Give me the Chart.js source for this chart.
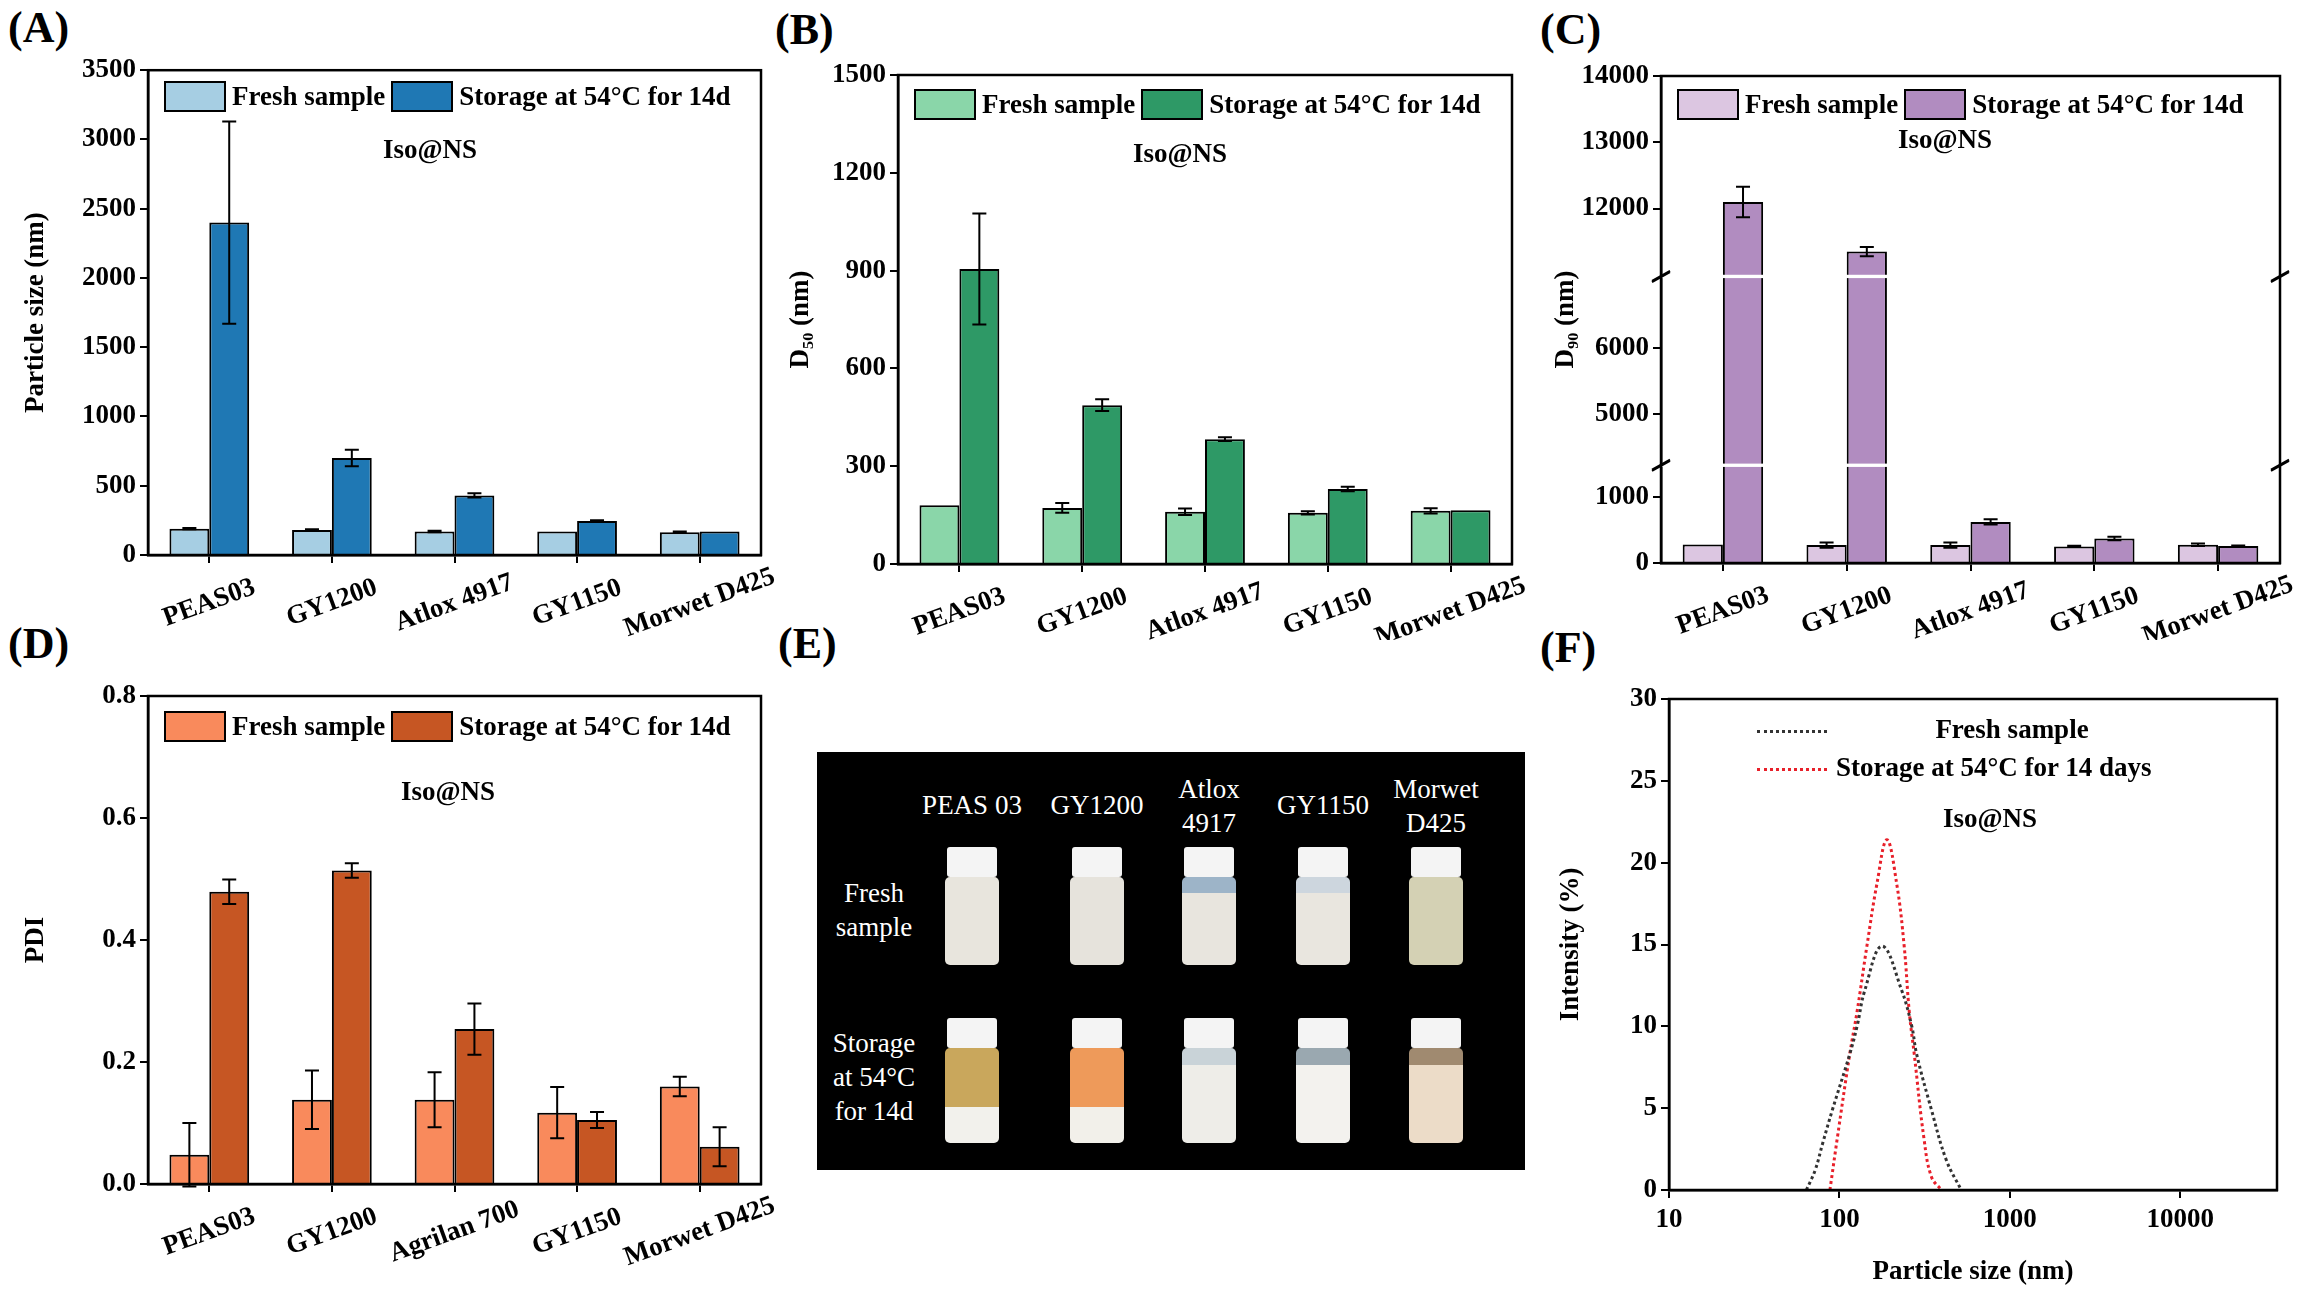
<!DOCTYPE html>
<html>
<head>
<meta charset="utf-8">
<script src="https://cdn.jsdelivr.net/npm/chart.js@4.4.1/dist/chart.umd.min.js"></script>
<style>
  body { margin: 0; background: #fff; width: 2315px; height: 1295px; position: relative; overflow: hidden;
         font-family: "Liberation Serif", "Times New Roman", serif; }
  canvas { position: absolute; }
  .lbl { position: absolute; font-weight: bold; font-size: 44px; line-height: 1; }
  .txt { position: absolute; font-weight: bold; font-size: 27px; line-height: 1; white-space: nowrap; }
  .leg { position: absolute; display: flex; align-items: center; font-weight: bold; font-size: 27px; white-space: nowrap; }
  .leg .box { width: 58px; height: 27px; border: 2px solid #000; margin-right: 6px; }
  .leg span { margin-right: 6px; }
  #photo { position: absolute; left: 817px; top: 752px; width: 708px; height: 418px; background: #000; }
  .ph { position: absolute; color: #fff; font-size: 27px; text-align: center; line-height: 34px; white-space: nowrap; transform: translateX(-50%); }
  .vial { position: absolute; width: 54px; transform: translateX(-50%); }
  .cap { height: 30px; background: #f4f4f4; border-radius: 3px; width: 50px; margin: 0 auto; }
  .body { border-radius: 5px; }
</style>
</head>
<body>
<div class="lbl" style="left:8px;top:6px">(A)</div>
<div class="lbl" style="left:775px;top:8px">(B)</div>
<div class="lbl" style="left:1540px;top:8px">(C)</div>
<div class="lbl" style="left:8px;top:622px">(D)</div>
<div class="lbl" style="left:778px;top:622px">(E)</div>
<div class="lbl" style="left:1540px;top:626px">(F)</div>

<canvas id="chartA"></canvas>
<canvas id="chartB"></canvas>
<canvas id="chartC"></canvas>
<canvas id="chartD"></canvas>
<canvas id="chartF"></canvas>
<div id="photo"></div>

<script>
// ========== DATA ==========
const productsA = ['PEAS03', 'GY1200', 'Atlox 4917', 'GY1150', 'Morwet D425'];
const productsD = ['PEAS03', 'GY1200', 'Agrilan 700', 'GY1150', 'Morwet D425'];
const seriesNames = ['Fresh sample', 'Storage at 54°C for 14d'];

const sizeFresh = [190, 180, 170, 170, 165];
const sizeFreshErr = [5, 5, 5, 0, 5];
const sizeStored = [2400, 700, 430, 245, 170];
const sizeStoredErr = [730, 60, 15, 5, 0];

const d50Fresh = [180, 172, 160, 157, 163];
const d50FreshErr = [0, 15, 10, 5, 8];
const d50Stored = [905, 487, 383, 230, 165];
const d50StoredErr = [170, 18, 6, 7, 0];

const d90Fresh = [280, 270, 270, 250, 275];
const d90FreshErr = [0, 40, 40, 10, 20];
const d90Stored = [12100, 11350, 620, 370, 255];
const d90StoredErr = [230, 70, 40, 25, 10];
const d90Ticks = [0, 1000, 5000, 6000, 12000, 13000, 14000];

const pdiFresh = [0.048, 0.138, 0.138, 0.117, 0.160];
const pdiFreshErr = [0.052, 0.048, 0.045, 0.042, 0.016];
const pdiStored = [0.479, 0.514, 0.254, 0.105, 0.061];
const pdiStoredErr = [0.020, 0.012, 0.042, 0.013, 0.032];

const dlsFreshSize = [64, 72, 80, 91, 115, 127, 141, 178, 232, 266, 284, 347, 425, 519];
const dlsFreshInt = [0, 1.2, 2.9, 4.9, 8.3, 10, 12.2, 14.9, 12.2, 10, 8.3, 4.9, 1.8, 0];
const dlsStoredSize = [88, 97, 115, 127, 145, 166, 190, 217, 240, 257, 275, 314, 347, 397];
const dlsStoredInt = [0, 3.1, 8.3, 10.9, 14.9, 18.7, 21.4, 18.7, 14.9, 10.9, 8.3, 3.1, 0.8, 0];

// ========== BROKEN AXIS FOR (C) ==========
function toC(v) {
    if (v <= 1450) return v;
    if (v <= 7050) return v - 2750;
    return v - 11000 + 4350;
}
function fromC(c) {
    if (c <= 1450) return c;
    if (c <= 4300) return c + 2750;
    return c + 11000 - 4350;
}
const identity = v => v;

const FONT = { family: '"Liberation Serif", "Times New Roman", serif', weight: 'bold', size: 27 };

// ========== PLUGINS ==========
const framePlugin = {
    id: 'frame',
    afterDraw(chart) {
        const a = chart.chartArea, ctx = chart.ctx;
        ctx.save();
        ctx.strokeStyle = '#000';
        ctx.lineWidth = 2.5;
        ctx.strokeRect(a.left, a.top, a.right - a.left, a.bottom - a.top);
        ctx.restore();
    }
};

// rotated category labels, centred under each tick
const slantLabelPlugin = {
    id: 'slantLabels',
    afterDraw(chart) {
        const ctx = chart.ctx, x = chart.scales.x, a = chart.chartArea;
        ctx.save();
        ctx.fillStyle = '#000';
        ctx.font = 'bold 27px "Liberation Serif", "Times New Roman", serif';
        ctx.textAlign = 'center';
        ctx.textBaseline = 'middle';
        chart.data.labels.forEach((lab, i) => {
            ctx.save();
            ctx.translate(x.getPixelForTick(i), a.bottom + 48);
            ctx.rotate(-20 * Math.PI / 180);
            ctx.fillText(lab, 0, 0);
            ctx.restore();
        });
        ctx.restore();
    }
};

const errorBarPlugin = {
    id: 'errorBars',
    afterDatasetsDraw(chart) {
        const ctx = chart.ctx, y = chart.scales.y;
        ctx.save();
        ctx.strokeStyle = '#000';
        ctx.lineWidth = 2;
        chart.data.datasets.forEach((ds, di) => {
            const map = ds.mapFn || identity;
            chart.getDatasetMeta(di).data.forEach((bar, i) => {
                const err = ds.errs[i];
                if (!err) return;
                const top = y.getPixelForValue(map(ds.raw[i] + err));
                const bot = y.getPixelForValue(map(ds.raw[i] - err));
                ctx.beginPath();
                ctx.moveTo(bar.x, top); ctx.lineTo(bar.x, bot);
                ctx.moveTo(bar.x - 7, top); ctx.lineTo(bar.x + 7, top);
                ctx.moveTo(bar.x - 7, bot); ctx.lineTo(bar.x + 7, bot);
                ctx.stroke();
            });
        });
        ctx.restore();
    }
};

const breakPlugin = {
    id: 'axisBreak',
    afterDraw(chart) {
        const gaps = chart.config.data.gaps;
        if (!gaps) return;
        const ctx = chart.ctx, a = chart.chartArea, y = chart.scales.y;
        ctx.save();
        gaps.forEach(g => {
            const p1 = y.getPixelForValue(g[1]), p0 = y.getPixelForValue(g[0]);
            ctx.fillStyle = '#fff';
            ctx.fillRect(a.left - 3, p1, a.right - a.left + 6, p0 - p1);
            ctx.strokeStyle = '#000';
            ctx.lineWidth = 2;
            [a.left, a.right].forEach(x => {
                ctx.beginPath();
                ctx.moveTo(x - 9, p0 + 4); ctx.lineTo(x + 9, p0 - 6);
                ctx.moveTo(x - 9, p1 + 6); ctx.lineTo(x + 9, p1 - 4);
                ctx.stroke();
            });
        });
        ctx.restore();
    }
};

// ========== LAYOUT HELPER ==========
function placeCanvas(id, box) {
    const c = document.getElementById(id);
    c.style.left = box.x + 'px';
    c.style.top = box.y + 'px';
    c.style.width = box.w + 'px';
    c.style.height = box.h + 'px';
    c.width = box.w;
    c.height = box.h;
    return c;
}

function axisFit(box, area) {
    return {
        yWidth: area.l - box.x,
        xHeight: box.y + box.h - area.b,
        padTop: area.t - box.y,
        padRight: box.x + box.w - area.r
    };
}

function addText(text, x, y, cls, extra) {
    const d = document.createElement('div');
    d.className = cls || 'txt';
    d.textContent = text;
    d.style.left = x + 'px';
    d.style.top = y + 'px';
    if (extra) Object.assign(d.style, extra);
    document.body.appendChild(d);
    return d;
}

function addLegend(x, y, colors) {
    const d = document.createElement('div');
    d.className = 'leg';
    d.style.left = x + 'px';
    d.style.top = y + 'px';
    seriesNames.forEach((n, i) => {
        const b = document.createElement('div');
        b.className = 'box';
        b.style.background = colors[i];
        const s = document.createElement('span');
        s.textContent = n;
        d.appendChild(b);
        d.appendChild(s);
    });
    document.body.appendChild(d);
}

// ========== BAR PANEL ==========
function barPanel(cfg) {
    const canvas = placeCanvas(cfg.id, cfg.box);
    const fit = axisFit(cfg.box, cfg.area);
    const map = cfg.map || identity;
    const yScale = {
        min: map(cfg.yMin), max: map(cfg.yMax),
        ticks: { color: '#000', font: FONT, padding: 4, stepSize: cfg.step,
                 callback: cfg.tickLabel || (v => v) },
        grid: { drawOnChartArea: false, color: '#000', tickLength: 8, lineWidth: 2 },
        border: { display: true, color: '#000', width: 2.5 },
        title: { display: true, text: cfg.yTitle, color: '#000', font: FONT, padding: 0 },
        afterFit(s) { s.width = fit.yWidth; }
    };
    if (cfg.tickValues) {
        yScale.afterBuildTicks = s => { s.ticks = cfg.tickValues.map(v => ({ value: map(v) })); };
        yScale.ticks.callback = v => Math.round(fromC(v));
    }
    new Chart(canvas, {
        type: 'bar',
        data: {
            labels: cfg.labels,
            gaps: cfg.gaps,
            datasets: [
                { label: seriesNames[0], data: cfg.fresh.map(map), raw: cfg.fresh, errs: cfg.freshErr, mapFn: map,
                  backgroundColor: cfg.colors[0], borderColor: '#000', borderWidth: 2 },
                { label: seriesNames[1], data: cfg.stored.map(map), raw: cfg.stored, errs: cfg.storedErr, mapFn: map,
                  backgroundColor: cfg.colors[1], borderColor: '#000', borderWidth: 2 }
            ]
        },
        options: {
            responsive: false,
            animation: false,
            layout: { padding: { top: fit.padTop, right: fit.padRight, left: 0, bottom: 0 } },
            datasets: { bar: { categoryPercentage: 0.65, barPercentage: 1 } },
            plugins: {
                legend: { display: false },
                tooltip: { enabled: false }
            },
            scales: {
                x: {
                    ticks: { display: false },
                    grid: { drawOnChartArea: false, color: '#000', tickLength: 8, lineWidth: 2, offset: false },
                    border: { display: true, color: '#000', width: 2.5 },
                    afterFit(s) { s.height = fit.xHeight; }
                },
                y: yScale
            }
        },
        plugins: [errorBarPlugin, breakPlugin, framePlugin, slantLabelPlugin]
    });
    addLegend(cfg.area.l + 16, cfg.legendY, cfg.colors);
    addText('Iso@NS', cfg.isoX, cfg.isoY, 'txt', { transform: 'translateX(-50%)' });
}

barPanel({
    id: 'chartA', box: { x: 20, y: 50, w: 780, h: 590 }, area: { l: 148, t: 65, r: 761, b: 555 },
    labels: productsA, fresh: sizeFresh, freshErr: sizeFreshErr, stored: sizeStored, storedErr: sizeStoredErr,
    yMin: 0, yMax: 3500, step: 500, yTitle: 'Particle size (nm)', colors: ['#a6cee3', '#1f78b4'],
    legendY: 81, isoX: 430, isoY: 136
});
barPanel({
    id: 'chartB', box: { x: 785, y: 50, w: 760, h: 590 }, area: { l: 898, t: 75, r: 1512, b: 564 },
    labels: productsA, fresh: d50Fresh, freshErr: d50FreshErr, stored: d50Stored, storedErr: d50StoredErr,
    yMin: 0, yMax: 1500, step: 300, yTitle: 'D₅₀ (nm)', colors: ['#8ad6a9', '#2e9966'],
    legendY: 89, isoX: 1180, isoY: 140
});
barPanel({
    id: 'chartC', box: { x: 1550, y: 50, w: 765, h: 590 }, area: { l: 1661, t: 76, r: 2280, b: 563 },
    labels: productsA, fresh: d90Fresh, freshErr: d90FreshErr, stored: d90Stored, storedErr: d90StoredErr,
    yMin: 0, yMax: 14000, yTitle: 'D₉₀ (nm)', colors: ['#dcc6e1', '#b18cc0'],
    map: toC, tickValues: d90Ticks, gaps: [[1450, 1500], [4300, 4350]],
    legendY: 89, isoX: 1945, isoY: 126
});
barPanel({
    id: 'chartD', box: { x: 20, y: 670, w: 780, h: 620 }, area: { l: 148, t: 696, r: 761, b: 1184 },
    labels: productsD, fresh: pdiFresh, freshErr: pdiFreshErr, stored: pdiStored, storedErr: pdiStoredErr,
    yMin: 0, yMax: 0.8, step: 0.2, yTitle: 'PDI', colors: ['#f98a5c', '#c65623'],
    tickLabel: v => v.toFixed(1),
    legendY: 711, isoX: 448, isoY: 778
});

// ========== DLS PANEL (F) ==========
(function () {
    const box = { x: 1555, y: 670, w: 752, h: 622 };
    const area = { l: 1669, t: 699, r: 2277, b: 1190 };
    const fit = axisFit(box, area);
    const canvas = placeCanvas('chartF', box);
    const pts = (xs, ys) => xs.map((x, i) => ({ x: x, y: ys[i] }));
    new Chart(canvas, {
        type: 'scatter',
        data: {
            datasets: [
                { label: 'Fresh sample', data: pts(dlsFreshSize, dlsFreshInt), showLine: true,
                  borderColor: '#333', borderDash: [3, 3], borderWidth: 3, pointRadius: 0, tension: 0.4 },
                { label: 'Storage at 54°C for 14 days', data: pts(dlsStoredSize, dlsStoredInt), showLine: true,
                  borderColor: '#e8202a', borderDash: [3, 3], borderWidth: 3, pointRadius: 0, tension: 0.4 }
            ]
        },
        options: {
            responsive: false,
            animation: false,
            layout: { padding: { top: fit.padTop, right: fit.padRight, left: 0, bottom: 0 } },
            plugins: { legend: { display: false }, tooltip: { enabled: false } },
            scales: {
                x: {
                    type: 'logarithmic', min: 10, max: 37000,
                    afterBuildTicks(s) { s.ticks = [10, 100, 1000, 10000].map(v => ({ value: v })); },
                    ticks: { color: '#000', font: FONT, maxRotation: 0, padding: 6, callback: v => v },
                    grid: { drawOnChartArea: false, color: '#000', tickLength: 8, lineWidth: 2 },
                    border: { display: true, color: '#000', width: 2.5 },
                    title: { display: true, text: 'Particle size (nm)', color: '#000', font: FONT, padding: { top: 14 } },
                    afterFit(s) { s.height = fit.xHeight; }
                },
                y: {
                    min: 0, max: 30,
                    ticks: { color: '#000', font: FONT, stepSize: 5, padding: 4 },
                    grid: { drawOnChartArea: false, color: '#000', tickLength: 8, lineWidth: 2 },
                    border: { display: true, color: '#000', width: 2.5 },
                    title: { display: true, text: 'Intensity (%)', color: '#000', font: FONT, padding: 0 },
                    afterFit(s) { s.width = fit.yWidth; }
                }
            }
        },
        plugins: [framePlugin]
    });
    const line = (x, y, color) => {
        const d = document.createElement('div');
        Object.assign(d.style, { position: 'absolute', left: x + 'px', top: y + 'px', width: '70px',
                                 borderTop: '3px dotted ' + color });
        document.body.appendChild(d);
    };
    line(1757, 730, '#333');
    line(1757, 768, '#e8202a');
    addText('Fresh sample', 2012, 716, 'txt', { transform: 'translateX(-50%)' });
    addText('Storage at 54°C for 14 days', 1836, 754, 'txt');
    addText('Iso@NS', 1990, 805, 'txt', { transform: 'translateX(-50%)' });
})();

// ========== PHOTO PANEL (E) ==========
const photoCols = ['PEAS 03', 'GY1200', 'Atlox\n4917', 'GY1150', 'Morwet\nD425'];
const photoX = [155, 280, 392, 506, 619];
const freshVial = [['#e8e5dd'], ['#e6e3dc'], ['#9db4c8', '#e8e5de'], ['#cdd6de', '#e9e6df'], ['#d4d1b4']];
const storedVial = [['#c9a75c', '#f2f1ec'], ['#ee9a5a', '#f2f0ea'], ['#c9d3d8', '#eeede8'], ['#9aa8b0', '#f3f2ee'], ['#a08a70', '#ecdcc8']];
(function () {
    const ph = document.getElementById('photo');
    const add = (html, x, y, cls) => {
        const d = document.createElement('div');
        d.className = cls;
        d.innerHTML = html;
        d.style.left = x + 'px';
        d.style.top = y + 'px';
        ph.appendChild(d);
        return d;
    };
    photoCols.forEach((t, i) => {
        const two = t.includes('\n');
        add(t.replace('\n', '<br>'), photoX[i], two ? 20 : 36, 'ph');
        const mk = (top, colors, h, split) => {
            const grad = colors.length > 1
                ? 'linear-gradient(' + colors[0] + ' 0 ' + split + '%, ' + colors[1] + ' ' + split + '% 100%)' : colors[0];
            add('<div class="cap"></div><div class="body" style="height:' + h + 'px;background:' + grad + '"></div>',
                photoX[i], top, 'vial');
        };
        mk(95, freshVial[i], 88, 18);
        mk(266, storedVial[i], 95, i === 4 || i === 2 || i === 3 ? 18 : 62);
    });
    add('Fresh<br>sample', 57, 124, 'ph');
    add('Storage<br>at 54°C<br>for 14d', 57, 274, 'ph');
})();
</script>
</body>
</html>
